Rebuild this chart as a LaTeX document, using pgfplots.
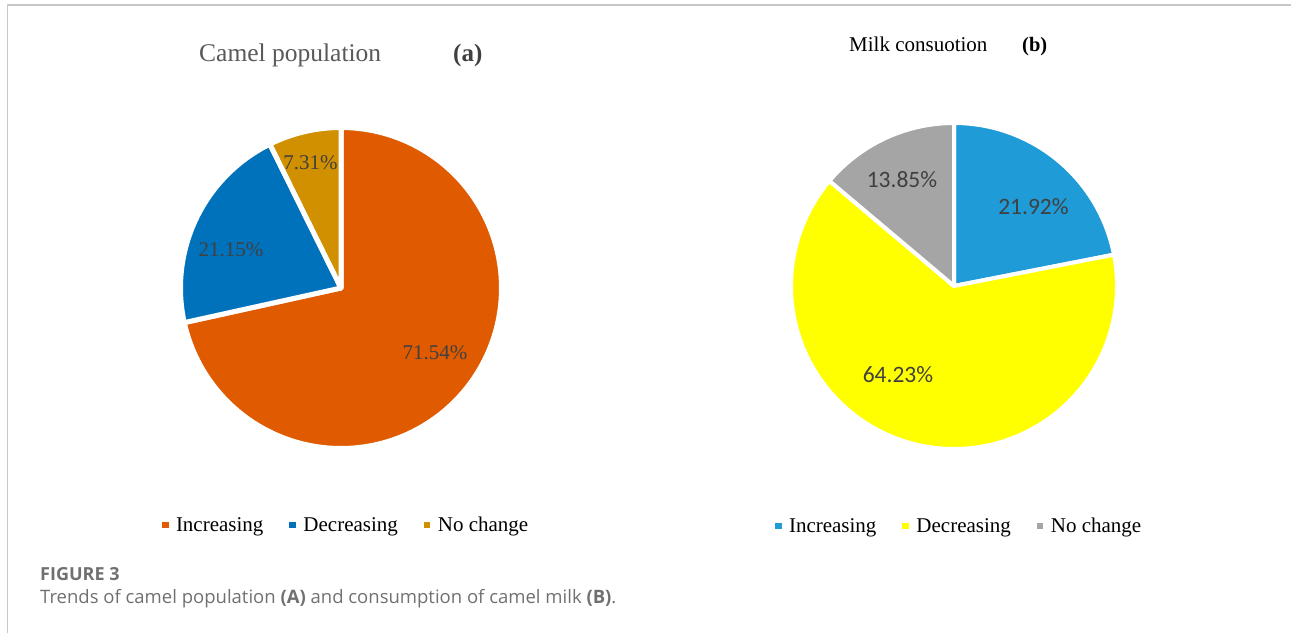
\documentclass[border=0pt]{standalone}
\usepackage{pgfplots}
\pgfplotsset{compat=1.18}
\usepackage{pgfplotstable}
\usepackage{fontspec}
\setmainfont{Liberation Serif}
\newfontfamily\calibri{Carlito}
\newfontfamily\capfont{Open Sans}

\definecolor{incA}{HTML}{E05A00}
\definecolor{decA}{HTML}{0071BB}
\definecolor{noA}{HTML}{D09000}
\definecolor{incB}{HTML}{1F9BD7}
\definecolor{decB}{HTML}{FFFF00}
\definecolor{noB}{HTML}{A5A5A5}
\definecolor{lbl}{HTML}{404040}
\definecolor{ttlgray}{HTML}{595959}
\definecolor{captxt}{HTML}{707070}
\definecolor{framegray}{HTML}{C8C8C8}

% shares of respondents, in percent
\pgfplotstableread{
trend share
Increasing 71.54
Decreasing 21.15
Nochange 7.31
}\camel
\pgfplotstableread{
trend share
Increasing 21.92
Decreasing 64.23
Nochange 13.85
}\milk

\newcommand\getshare[3]{\pgfplotstablegetelem{#2}{share}\of#1\let#3\pgfplotsretval}
\getshare\camel{0}\aInc
\getshare\camel{1}\aDec
\getshare\camel{2}\aNo
\getshare\milk{0}\bInc
\getshare\milk{1}\bDec
\getshare\milk{2}\bNo

% slice boundaries, clockwise from twelve o'clock
\pgfmathsetmacro\aA{90-3.6*\aInc}
\pgfmathsetmacro\aB{90-3.6*(\aInc+\aDec)}
\pgfmathsetmacro\aC{90-3.6*(\aInc+\aDec+\aNo)}
\pgfmathsetmacro\bA{90-3.6*\bInc}
\pgfmathsetmacro\bB{90-3.6*(\bInc+\bDec)}
\pgfmathsetmacro\bC{90-3.6*(\bInc+\bDec+\bNo)}

% #1 colour, #2:#3 angles, (#4,#5) centre, #6 radius, #7 gap width
\newcommand\slice[7]{%
  \addplot[fill=#1, draw=white, line width=#7, line join=round,
    domain=#2:#3, samples=160, variable=\t, forget plot]
    ({#4+#6*cos(\t)}, {#5+#6*sin(\t)}) -- (axis cs:#4,#5) -- cycle;}

\pgfplotsset{
  piestyle/.style={
    at={(0pt,0pt)}, anchor=origin, x=1pt, y=1pt,
    xmin=0, xmax=1291, ymin=0, ymax=633,
    hide axis, clip=false,
    legend columns=3,
    legend image code/.code={\fill[##1] (0pt,-3.25pt) rectangle (6.5pt,3.25pt);},
    legend style={draw=none, fill=none, inner sep=0pt, outer sep=0pt,
      anchor=west, font=\fontsize{21}{24}\selectfont,
      nodes={inner sep=0pt},
      /tikz/every odd column/.append style={column sep=7.5pt},
      /tikz/every even column/.append style={column sep=26pt}},
  }
}

\begin{document}
\begin{tikzpicture}
\useasboundingbox (0pt,0pt) rectangle (1291pt,633pt);

% left panel
\begin{axis}[piestyle, legend style={at={(axis cs:162,108)}}]
  \slice{incA}{\aA}{90}{341}{345}{160.5}{5pt}
  \slice{decA}{\aB}{\aA}{341}{345}{160.5}{5pt}
  \slice{noA}{\aC}{\aB}{341}{345}{160.5}{5pt}
  \addlegendimage{fill=incA, draw=none}\addlegendentry{Increasing}
  \addlegendimage{fill=decA, draw=none}\addlegendentry{Decreasing}
  \addlegendimage{fill=noA, draw=none}\addlegendentry{No change}
  \begin{scope}[every node/.style={inner sep=0pt, text=lbl, font=\fontsize{21}{24}\selectfont}]
    \node at (axis cs:435,280) {\aInc\%};
    \node at (axis cs:231,383) {\aDec\%};
    \node at (axis cs:310.5,470) {\aNo\%};
  \end{scope}
  \node[anchor=base west, inner sep=0pt, text=ttlgray, font=\fontsize{25.5}{30}\selectfont]
    at (axis cs:199,571) {Camel population};
  \node[anchor=base west, inner sep=0pt, text=lbl, font=\bfseries\fontsize{25}{28}\selectfont]
    at (axis cs:453,571) {(a)};
\end{axis}

% right panel
\begin{axis}[piestyle, legend style={at={(axis cs:775,107)}}]
  \slice{incB}{\bA}{90}{954}{347}{163}{4pt}
  \slice{decB}{\bB}{\bA}{954}{347}{163}{4pt}
  \slice{noB}{\bC}{\bB}{954}{347}{163}{4pt}
  \addlegendimage{fill=incB, draw=none}\addlegendentry{Increasing}
  \addlegendimage{fill=decB, draw=none}\addlegendentry{Decreasing}
  \addlegendimage{fill=noB, draw=none}\addlegendentry{No change}
  \begin{scope}[every node/.style={inner sep=0pt, text=lbl, font=\calibri\fontsize{23.5}{26}\selectfont}]
    \node at (axis cs:1033.5,426) {\bInc\%};
    \node at (axis cs:898,258) {\bDec\%};
    \node at (axis cs:902,453) {\bNo\%};
  \end{scope}
  \node[anchor=base west, inner sep=0pt, font=\fontsize{21}{24}\selectfont]
    at (axis cs:849,581) {Milk consuotion};
  \node[anchor=base west, inner sep=0pt, font=\bfseries\fontsize{20.5}{24}\selectfont]
    at (axis cs:1022,581) {(b)};
\end{axis}

% frame and caption
\draw[framegray, line width=1.5pt] (7.5pt,0pt) -- (7.5pt,628pt) -- (1291pt,628pt);
\node[anchor=base west, inner sep=0pt, text=captxt, font=\capfont\bfseries\fontsize{18}{21}\selectfont]
  at (40pt,53pt) {FIGURE 3};
\node[anchor=base west, inner sep=0pt, text=captxt, font=\capfont\fontsize{18.5}{21}\selectfont]
  at (40pt,30pt) {Trends of camel population \textbf{(A)} and consumption of camel milk \textbf{(B)}.};
\end{tikzpicture}
\end{document}
